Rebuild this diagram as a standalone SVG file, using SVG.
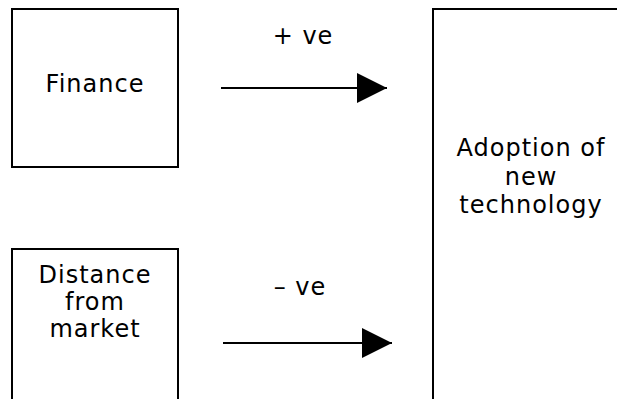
<svg xmlns="http://www.w3.org/2000/svg" width="617" height="399" viewBox="0 0 617 399">
<style>
.box{fill:#fff;stroke:#000;stroke-width:2}
.t{font-family:"DejaVu Sans","Verdana",sans-serif;font-size:24px;fill:#000;text-anchor:middle;letter-spacing:1px}
.edge{stroke:#000;stroke-width:2;fill:none}
</style>
<defs>
<marker id="ah" markerUnits="userSpaceOnUse" markerWidth="30" markerHeight="30" viewBox="0 0 30 30" refX="30" refY="15" orient="auto">
<path d="M0,0 L30,15 L0,30 Z" fill="#000"/>
</marker>
</defs>
<rect width="617" height="399" fill="#fff"/>
<g id="finance">
<rect class="box" x="12" y="9" width="166" height="158"/>
<text class="t" x="95" y="92">Finance</text>
</g>
<g id="distance">
<rect class="box" x="12" y="249" width="166" height="200"/>
<text class="t" x="95" y="283">Distance</text>
<text class="t" x="95" y="310">from</text>
<text class="t" x="95" y="337">market</text>
</g>
<g id="adoption">
<rect class="box" x="433" y="9" width="250" height="450"/>
<text class="t" x="531" y="156">Adoption of</text>
<text class="t" x="531" y="185">new</text>
<text class="t" x="531" y="213">technology</text>
</g>
<g id="connectors">
<line class="edge" x1="221" y1="88" x2="387" y2="88" marker-end="url(#ah)"/>
<text class="t" x="303" y="44">+ ve</text>
<line class="edge" x1="223" y1="343" x2="392" y2="343" marker-end="url(#ah)"/>
<text class="t" x="300" y="295">– ve</text>
</g>
</svg>
